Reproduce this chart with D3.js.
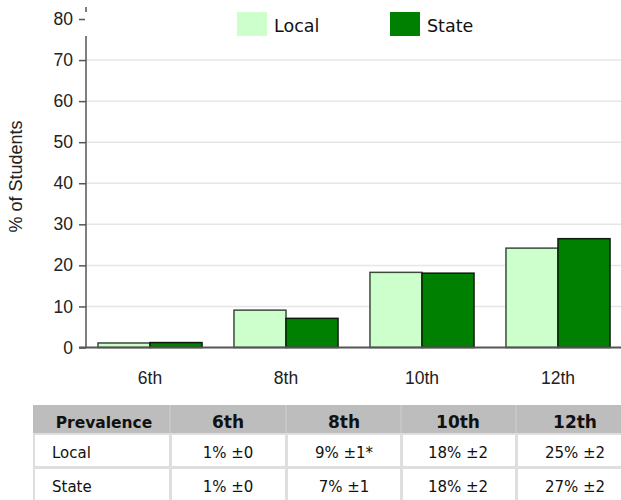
<!DOCTYPE html>
<html><head><meta charset="utf-8">
<script src="https://cdn.jsdelivr.net/npm/d3@7"></script>
<style>body{margin:0;background:#fff}svg{display:block}</style>
</head><body>
<svg id="c" width="621" height="500"></svg>
<script>
const categories = ["6th","8th","10th","12th"];
const seriesNames = ["Local","State"];
const localValues = [1.1, 9.1, 18.3, 24.2];
const stateValues = [1.2, 7.1, 18.1, 26.5];
const yTicks = [0,10,20,30,40,50,60,70,80];
const tableHeader = ["Prevalence","6th","8th","10th","12th"];
const localRow = ["Local","1% \u00b10","9% \u00b11*","18% \u00b12","25% \u00b12"];
const stateRow = ["State","1% \u00b10","7% \u00b11","18% \u00b12","27% \u00b12"];
const colors = ["#ccffcc","#008000"];
const strokes = ["#3c4a3c","#0c1a0c"];

const ARIAL = "'Liberation Sans', Arial, sans-serif";
const VERD = "'DejaVu Sans', Verdana, sans-serif";
const svg = d3.select("#c");
const y = d3.scaleLinear().domain([0,80]).range([347.5,19]);
const x0 = d3.scaleBand().domain(categories).range([82,626]).paddingInner(0.235).paddingOuter(0.1175);
const x1 = d3.scaleBand().domain(seriesNames).range([0,x0.bandwidth()]);

// gridlines
svg.append("g").selectAll("line").data(yTicks.filter(d=>d>0)).join("line")
  .attr("x1",86).attr("x2",621).attr("y1",d=>y(d)).attr("y2",d=>y(d))
  .attr("stroke","#e6e6e6").attr("stroke-width",1.5);

// y axis
const ya = svg.append("g").attr("transform","translate(86,0)")
  .call(d3.axisLeft(y).tickValues(yTicks).tickSize(7).tickPadding(6));
ya.attr("font-size",null).attr("font-family",null);
ya.select(".domain").remove();
ya.selectAll(".tick line").attr("stroke","#555").attr("stroke-width",1.5);
ya.selectAll(".tick text").style("font-family",ARIAL).style("font-size","17.5px").attr("fill","#222");
svg.append("line").attr("x1",86).attr("x2",86).attr("y1",7).attr("y2",348).attr("stroke","#555").attr("stroke-width",1.5);

// bars
const data = categories.map((c,i)=>({c, vals:[localValues[i], stateValues[i]]}));
const g = svg.append("g").selectAll("g").data(data).join("g").attr("transform",d=>`translate(${x0(d.c)},0)`);
g.selectAll("rect").data(d=>d.vals.map((v,j)=>({v,j}))).join("rect")
  .attr("x",d=>x1(seriesNames[d.j])).attr("width",x1.bandwidth())
  .attr("y",d=>y(d.v)).attr("height",d=>y(0)-y(d.v))
  .attr("fill",d=>colors[d.j]).attr("stroke",d=>strokes[d.j]).attr("stroke-width",1.5);

// baseline
svg.append("line").attr("x1",79).attr("x2",621).attr("y1",y(0)).attr("y2",y(0)).attr("stroke","#555").attr("stroke-width",2);

// x labels
const xa = svg.append("g").attr("transform",`translate(0,${y(0)})`).call(d3.axisBottom(x0).tickSize(0).tickPadding(24));
xa.attr("font-size",null).attr("font-family",null);
xa.select(".domain").remove();
xa.selectAll("text").attr("dy",null).attr("y",36.5).style("font-family",ARIAL).style("font-size","17.5px").attr("fill","#222");

// y title
svg.append("text").attr("transform","translate(22,176.5) rotate(-90)").attr("text-anchor","middle")
  .style("font-family",ARIAL).style("font-size","18px").attr("fill","#222").text("% of Students");

// legend
svg.append("rect").attr("x",85).attr("y",12).attr("width",536).attr("height",24).attr("fill","#fff");
const lg = svg.append("g").selectAll("g").data(seriesNames).join("g")
  .attr("transform",(d,i)=>`translate(${237+i*153},12)`);
lg.append("rect").attr("width",30).attr("height",24).attr("fill",(d,i)=>colors[i]);
lg.append("text").attr("x",37).attr("y",19.5).style("font-family",VERD).style("font-size","17.5px").attr("fill","#111").text(d=>d);

// table
const edges = [33,170,286,401,516,634];
const centers = [104,228,344,458,575];
const t = svg.append("g");
t.append("rect").attr("x",33).attr("y",405).attr("width",600).attr("height",28).attr("fill","#bdbdbd");
t.selectAll("line.sep").data(edges.slice(1,5)).join("line").attr("class","sep")
  .attr("x1",d=>d).attr("x2",d=>d).attr("y1",405).attr("y2",433).attr("stroke","#cfcfcf").attr("stroke-width",1);
t.append("rect").attr("x",33).attr("y",433).attr("width",600).attr("height",67).attr("fill","#dedede");
const rows = [localRow, stateRow];
const rowY = [435, 469];
rows.forEach((row,ri)=>{
  t.selectAll(null).data(row).join("rect")
    .attr("x",(d,i)=>edges[i]+2).attr("y",rowY[ri]).attr("width",(d,i)=>edges[i+1]-edges[i]-3).attr("height",31).attr("fill","#fff");
  t.selectAll(null).data(row).join("text")
    .attr("x",(d,i)=>i===0?52:centers[i]).attr("y",rowY[ri]+23)
    .attr("text-anchor",(d,i)=>i===0?"start":"middle")
    .style("font-family",VERD).style("font-size","15px").attr("fill","#111").text(d=>d);
});
t.selectAll(null).data(tableHeader).join("text")
  .attr("x",(d,i)=>centers[i]).attr("y",428)
  .attr("text-anchor","middle").attr("font-weight","bold")
  .style("font-family",VERD).style("font-size",(d,i)=>i===0?"15.5px":"17px").attr("fill","#111").text(d=>d);
</script>
</body></html>
